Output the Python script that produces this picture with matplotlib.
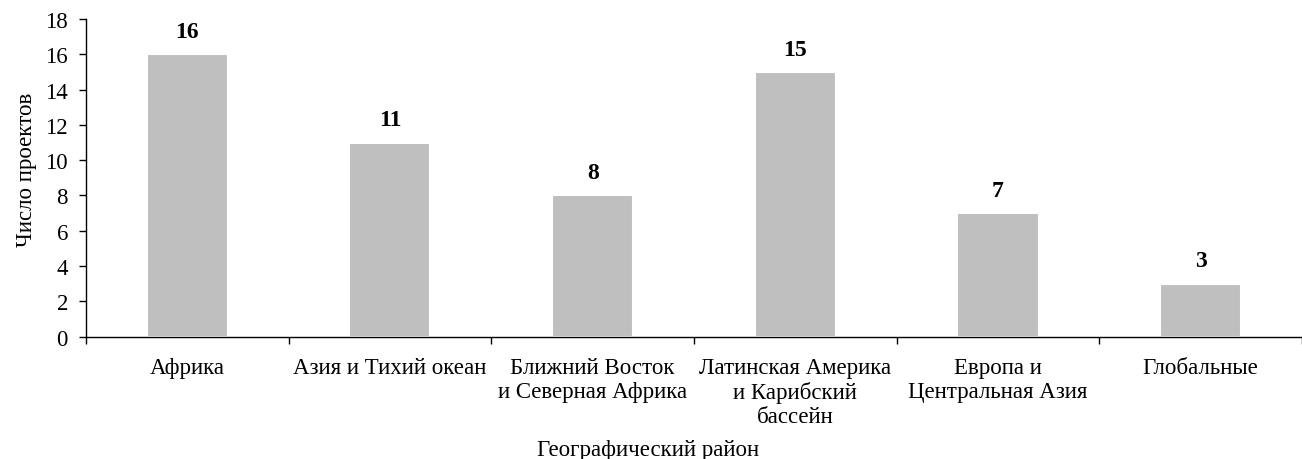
import matplotlib
matplotlib.use("Agg")
import matplotlib.pyplot as plt

# Data
regions = ["Африка", "Азия и Тихий океан", "Ближний Восток\nи Северная Африка",
           "Латинская Америка\nи Карибский\nбассейн", "Европа и\nЦентральная Азия", "Глобальные"]
projects = [16, 11, 8, 15, 7, 3]
yticks = list(range(0, 19, 2))

plt.rcParams["font.family"] = ["Liberation Serif", "DejaVu Serif"]
fs = 16.5

fig = plt.figure(figsize=(13.02, 4.6), dpi=100)
ax = fig.add_axes([0.066, 0.2663, 0.934, 0.69])

x = list(range(len(regions)))
bars = ax.bar(x, projects, width=0.4, color="#BFBFBF", edgecolor="white", linewidth=1.5)

for xi, v in zip(x, projects):
    ax.annotate(str(v), (xi, v), xytext=(0, 16.5), textcoords="offset points",
                ha="center", va="center", fontsize=17, fontweight="bold")

ax.set_xlim(-0.5, len(regions) - 0.5)
ax.set_ylim(0, 18)
ax.set_yticks(yticks)
ax.tick_params(axis="y", labelsize=fs, length=5, width=1, direction="out", pad=8)

# tick marks between categories, labels under the bars
ax.set_xticks([i - 0.5 for i in range(len(regions) + 1)])
ax.set_xticklabels([])
ax.tick_params(axis="x", which="major", length=5, width=1, direction="out")
ax.set_xticks(x, regions, minor=True)
ax.tick_params(axis="x", which="minor", length=0, pad=15, labelsize=fs)
for lbl in ax.get_xticklabels(minor=True):
    lbl.set_linespacing(1.18)

ax.spines["top"].set_visible(False)
ax.spines["right"].set_visible(False)
ax.spines["left"].set_linewidth(1)
ax.spines["bottom"].set_linewidth(1)

fig.text(0.02, 0.63, "Число проектов", rotation=90, ha="center", va="center", fontsize=fs)
fig.text(0.498, 0.02, "Географический район", ha="center", va="center", fontsize=fs)

fig.savefig("out.png", dpi=100)
